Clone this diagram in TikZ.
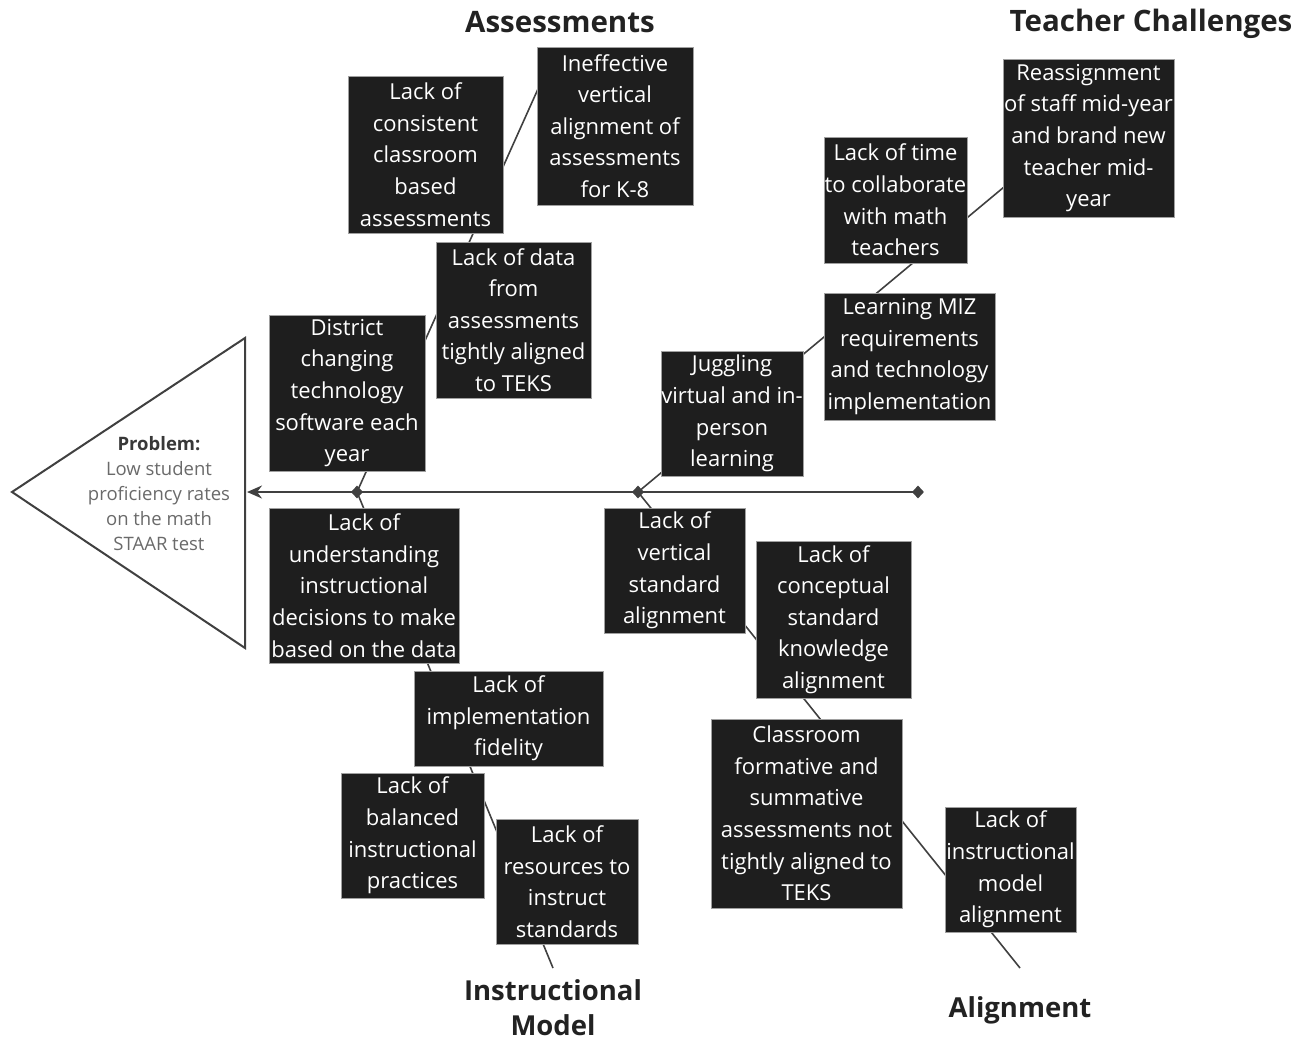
\documentclass[tikz,border=0pt]{standalone}
\usepackage{fontspec}
\setmainfont{Open Sans}
\usetikzlibrary{arrows.meta,shapes.geometric}

\definecolor{boxfill}{HTML}{1E1E1E}
\definecolor{boxedge}{HTML}{A0A0A0}
\definecolor{linec}{HTML}{404040}
\definecolor{probc}{HTML}{6A6A6A}
\definecolor{titlec}{HTML}{222222}

\tikzset{
  cause/.style={fill=boxfill, draw=boxedge, line width=0.8pt, inner sep=0pt},
  causetext/.style={text=white, align=center, inner sep=0pt,
    font=\fontsize{22}{31.6}\selectfont},
  bone/.style={draw=linec, line width=1.6pt},
  spine/.style={draw=linec, line width=2pt, -{Stealth[length=15pt,width=13pt]}},
  joint/.style={diamond, fill=linec, inner sep=0pt, minimum width=12pt, minimum height=13pt},
  title/.style={font=\bfseries\fontsize{29.5}{36}\selectfont, text=titlec, align=center},
  lowtitle/.style={font=\bfseries\fontsize{27.5}{35}\selectfont, text=titlec, align=center},
  head/.style={draw=linec, line width=2pt, fill=white, line join=miter},
}

% \causebox{name}{cx}{cy}{width}{height}{text}
\newcommand\causebox[6]{%
  \node[cause, minimum width=#4pt, minimum height=#5pt] (#1) at (#2,#3) {};
  \node[causetext] (#1-text) at (#1.center) {#6};}

\begin{document}
\begin{tikzpicture}[x=1pt, y=-1pt]
  \useasboundingbox (0,0) rectangle (1310,1042);

  % joints on the spine and bone ends
  \coordinate (j1) at (357,492);
  \coordinate (j2) at (638,492);
  \coordinate (j3) at (918,492);
  \coordinate (tip) at (247,492);
  \coordinate (endA) at (551,60);
  \coordinate (endT) at (1100,107);
  \coordinate (endI) at (553,968);
  \coordinate (endL) at (1020,968);

  % bones
  \draw[bone] (j1) -- (endA);
  \draw[bone] (j2) -- (endT);
  \draw[bone] (j1) -- (endI);
  \draw[bone] (j2) -- (endL);

  % head of the fish
  \draw[head] (12,492) -- (245,338) -- (245,648) -- cycle;
  \node[align=center, text=probc, font=\fontsize{18.5}{25}\selectfont] (problem) at (159,494)
    {\textcolor{titlec!90}{\bfseries Problem:}\\Low student\\proficiency rates\\on the math\\STAAR test};

  % spine
  \draw[spine] (j3) -- (tip);
  \node[joint] (dj1) at (j1) {};
  \node[joint] (dj2) at (j2) {};
  \node[joint] (dj3) at (j3) {};

  % Assessments
  \causebox{cons}{425.5}{154.5}{155}{157}{Lack of\\consistent\\classroom\\based\\assessments}
  \causebox{ineff}{615}{126}{156}{158}{Ineffective\\vertical\\alignment of\\assessments\\for K-8}
  \causebox{data}{513.5}{320}{155}{156}{Lack of data\\from\\assessments\\tightly aligned\\to TEKS}
  \causebox{dist}{347}{393}{156}{156}{District\\changing\\technology\\software each\\year}

  % Instructional Model
  \causebox{under}{364}{585.5}{190}{155}{Lack of\\understanding\\instructional\\decisions to make\\based on the data}
  \causebox{impl}{508.5}{718.5}{189}{95}{Lack of\\implementation\\fidelity}
  \causebox{bal}{412.5}{835.5}{143}{125}{Lack of\\balanced\\instructional\\practices}
  \causebox{res}{567}{881.5}{142}{125}{Lack of\\resources to\\instruct\\standards}

  % Teacher Challenges
  \causebox{jugg}{732}{413.5}{142}{125}{Juggling\\virtual and in-\\person\\learning}
  \causebox{miz}{909.5}{356.5}{171}{127}{Learning MIZ\\requirements\\and technology\\implementation}
  \causebox{time}{895.5}{200}{143}{126}{Lack of time\\to collaborate\\with math\\teachers}
  \causebox{reas}{1088.5}{138}{171}{158}{Reassignment\\of staff mid-year\\and brand new\\teacher mid-\\year}

  % Alignment
  \causebox{vert}{674.5}{570.5}{141}{125}{Lack of\\vertical\\standard\\alignment}
  \causebox{conc}{833.5}{619.5}{155}{157}{Lack of\\conceptual\\standard\\knowledge\\alignment}
  \causebox{form}{806.5}{813.5}{191}{189}{Classroom\\formative and\\summative\\assessments not\\tightly aligned to\\TEKS}
  \causebox{instm}{1010.5}{869.5}{131}{125}{Lack of\\instructional\\model\\alignment}

  % category titles
  \node[title] (tA) at (560,22) {Assessments};
  \node[title] (tT) at (1151,24) {Teacher Challenges};
  \node[lowtitle] (tI) at (553,1008) {Instructional\\Model};
  \node[lowtitle] (tL) at (1020,1010) {Alignment};
\end{tikzpicture}
\end{document}
